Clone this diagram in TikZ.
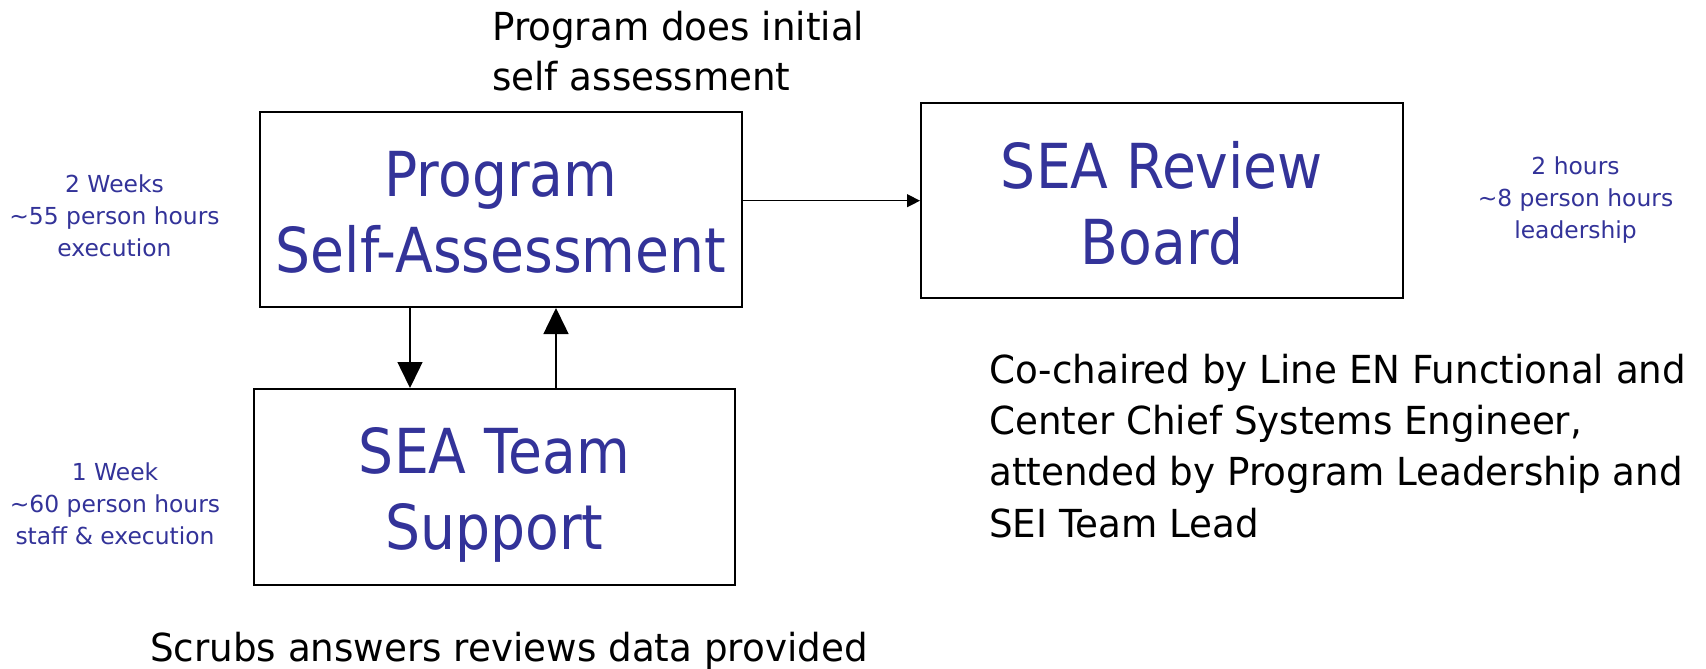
\documentclass[tikz,border=0pt]{standalone}
\usepackage{fontspec}
\setmainfont[FakeStretch=0.965]{DejaVu Sans}
\newfontfamily\bigfont[FakeStretch=0.89]{DejaVu Sans}
\newfontfamily\smallfont{DejaVu Sans}
\usetikzlibrary{arrows.meta}
\definecolor{pblue}{RGB}{51,51,153}
\tikzset{
  box/.style={draw=black, line width=2pt, minimum width=482pt, minimum height=195pt, inner sep=0pt},
  boxtext/.style={anchor=north, align=center, inner sep=0pt, text=pblue, font=\bigfont\fontsize{62}{76}\selectfont},
  note/.style={anchor=north west, align=left, inner sep=0pt, text=black},
  effort/.style={anchor=north, align=center, inner sep=0pt, text=pblue, font=\smallfont\fontsize{23.4}{32}\selectfont},
  bigarr/.style={line width=1.5pt, -{Triangle[length=26pt,width=25pt]}},
  smallarr/.style={line width=1.3pt, -{Triangle[length=13pt,width=13pt]}}
}
\begin{document}
\begin{tikzpicture}[x=1pt,y=-1pt]
\useasboundingbox[fill=white] (0,0) rectangle (1706,669);
% boxes
\node[box, minimum width=482pt, minimum height=195pt] (psa) at (501,209.5) {};
\node[box, minimum width=481pt, minimum height=196pt] (sts) at (494.5,487) {};
\node[box, minimum width=482pt, minimum height=195pt] (srb) at (1162,200.5) {};
% box texts
\node[boxtext] (psat) at (501,151.5) {Program\\Self-Assessment};
\node[boxtext] (stst) at (494.5,427) {SEA Team\\Support};
\node[boxtext] (srbt) at (1162,141) {SEA Review\\Board};
% connectors
\coordinate (dn) at (410,0);
\coordinate (up) at (556,0);
\coordinate (rt) at (0,200.7);
\draw[bigarr] (psa.south -| dn) -- (sts.north -| dn);
\draw[bigarr] (sts.north -| up) -- (psa.south -| up);
\draw[smallarr] (psa.east |- rt) -- (srb.west |- rt);
% annotations
\node[note, font=\fontsize{38.6}{50}\selectfont] (n1) at (492,11.4) {Program does initial\\self assessment};
\node[note, font=\fontsize{38.6}{51.3}\selectfont] (n2) at (989,353.7) {Co-chaired by Line EN Functional and\\Center Chief Systems Engineer,\\attended by Program Leadership and\\SEI Team Lead};
\node[note, font=\fontsize{38.6}{50}\selectfont] (n3) at (150,631.7) {Scrubs answers reviews data provided};
% efforts
\node[effort] (e1) at (114.5,174.9) {2 Weeks\\\textasciitilde55 person hours\\execution};
\node[effort] (e2) at (115,462.2) {1 Week\\\textasciitilde60 person hours\\staff \& execution};
\node[effort] (e3) at (1575.5,156.2) {2 hours\\\textasciitilde8 person hours\\leadership};
\end{tikzpicture}
\end{document}
